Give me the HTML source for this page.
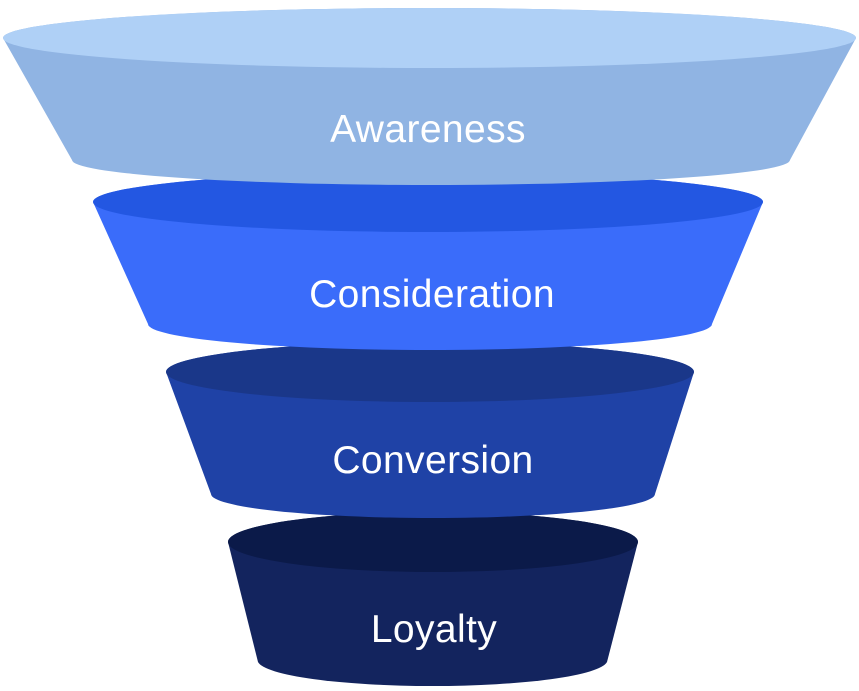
<!DOCTYPE html>
<html><head><meta charset="utf-8"><style>
html,body{margin:0;padding:0;background:#fff;}
svg{display:block}
text{font-family:"Liberation Sans",sans-serif;font-size:39px;fill:#fff;text-anchor:middle;letter-spacing:0.4px}
</style></head><body>
<svg width="859" height="691" viewBox="0 0 859 691">
<path d="M228,542 A205,30 0 0,1 638,542 L607,662 A175,26 0 0,1 258,662 Z" fill="#13245e"/>
<ellipse cx="433" cy="542" rx="205" ry="30" fill="#0b1a49"/>
<path d="M166,372 A264,30 0 0,1 694,372 L655,494 A222,24 0 0,1 211,494 Z" fill="#1f42a6"/>
<ellipse cx="430" cy="372" rx="264" ry="30" fill="#1a3789"/>
<path d="M93,202 A335,30 0 0,1 763,202 L712,324 A282,26 0 0,1 148,324 Z" fill="#3a6cfa"/>
<ellipse cx="428" cy="202" rx="335" ry="30" fill="#2357e2"/>
<path d="M3,38 A426.5,30 0 0,1 856,38 L790,160 A359,25 0 0,1 72,160 Z" fill="#90b4e3"/>
<ellipse cx="429.5" cy="38" rx="426.5" ry="30" fill="#afd0f6"/>
<text x="428" y="142">Awareness</text>
<text x="432" y="307">Consideration</text>
<text x="433" y="473">Conversion</text>
<text x="434" y="642">Loyalty</text>
</svg>
</body></html>
